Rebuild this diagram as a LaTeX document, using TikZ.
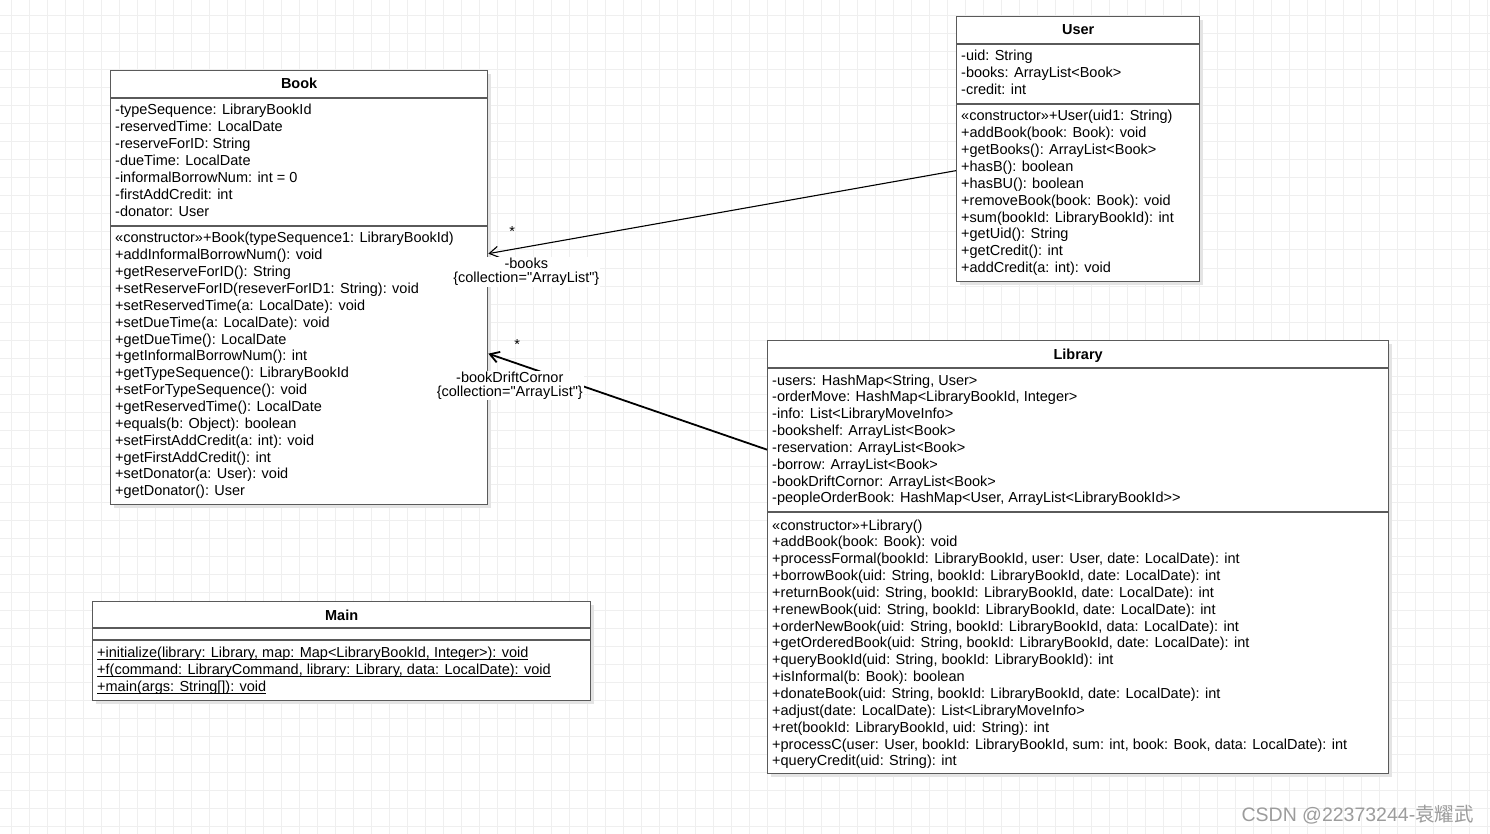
\documentclass[tikz,border=0pt]{standalone}
\usepackage{fontspec}
\setmainfont{Liberation Sans}
\newfontfamily\cjkfont{Noto Sans CJK SC}
\usetikzlibrary{arrows.meta,calc}
\definecolor{UmlBorder}{HTML}{5A5A5A}
\definecolor{UmlGrid}{HTML}{EFEFEF}
\definecolor{UmlShadow}{HTML}{E4E4E4}
\definecolor{UmlMark}{HTML}{9C9C9C}
\newcommand{\umlmembers}[1]{\begin{tabular}[t]{@{}l@{}}#1\end{tabular}}
\newcommand{\umlstatic}[1]{\setbox0\hbox{#1}\rlap{\rule[-2.2pt]{\wd0}{0.9pt}}\box0}

\begin{document}
\begin{tikzpicture}[x=1pt,y=-1pt,>={Straight Barb[length=9pt,width=11pt]},
  font=\fontsize{14.5}{16.85}\selectfont,
  classbox/.style={draw=UmlBorder,line width=1.3pt,fill=white,inner sep=0pt,anchor=north west,
    preaction={fill=UmlShadow,transform canvas={shift={(3pt,-3pt)}}}},
  classname/.style={font=\fontsize{14.5}{16.85}\selectfont\bfseries,inner sep=0pt,anchor=base},
  members/.style={anchor=base west,inner sep=0pt},
  divider/.style={UmlBorder,line width=1.3pt},
  assoc/.style={->,line width=1.1pt},
  mult/.style={inner sep=0pt},
  role/.style={fill=white,inner sep=1pt,align=center,font=\fontsize{14.5}{14}\selectfont}]
  \fill[white] (0,0) rectangle (1490,834);
  \useasboundingbox (0,0) rectangle (1490,834);
  \foreach \gx in {11,29,...,1490} \draw[UmlGrid,line width=1pt] (\gx,0) -- (\gx,834);
  \foreach \gy in {16,34,...,834} \draw[UmlGrid,line width=1pt] (0,\gy) -- (1490,\gy);

  % Book
  \node[classbox,minimum width=377pt,minimum height=434pt] (book) at (110,70) {};
  \node[classname] (bookName) at ($(book.north)+(0,19)$) {Book};
  \draw[divider] ($(book.north west)+(0,28)$) -- ($(book.north east)+(0,28)$);
  \draw[divider] ($(book.north west)+(0,156)$) -- ($(book.north east)+(0,156)$);
  \node[members] (bookAttr) at ($(book.north west)+(5,45)$) {\umlmembers{
    -typeSequence: LibraryBookId\\
    -reservedTime: LocalDate\\
    -reserveForID: String\\
    -dueTime: LocalDate\\
    -informalBorrowNum: int = 0\\
    -firstAddCredit: int\\
    -donator: User}};
  \node[members] (bookOps) at ($(book.north west)+(5,173)$) {\umlmembers{
    «constructor»+Book(typeSequence1: LibraryBookId)\\
    +addInformalBorrowNum(): void\\
    +getReserveForID(): String\\
    +setReserveForID(reseverForID1: String): void\\
    +setReservedTime(a: LocalDate): void\\
    +setDueTime(a: LocalDate): void\\
    +getDueTime(): LocalDate\\
    +getInformalBorrowNum(): int\\
    +getTypeSequence(): LibraryBookId\\
    +setForTypeSequence(): void\\
    +getReservedTime(): LocalDate\\
    +equals(b: Object): boolean\\
    +setFirstAddCredit(a: int): void\\
    +getFirstAddCredit(): int\\
    +setDonator(a: User): void\\
    +getDonator(): User}};

  % User
  \node[classbox,minimum width=243pt,minimum height=265pt] (user) at (956,16) {};
  \node[classname] (userName) at ($(user.north)+(0,19)$) {User};
  \draw[divider] ($(user.north west)+(0,28)$) -- ($(user.north east)+(0,28)$);
  \draw[divider] ($(user.north west)+(0,88)$) -- ($(user.north east)+(0,88)$);
  \node[members] (userAttr) at ($(user.north west)+(5,45)$) {\umlmembers{
    -uid: String\\
    -books: ArrayList<Book>\\
    -credit: int}};
  \node[members] (userOps) at ($(user.north west)+(5,105)$) {\umlmembers{
    «constructor»+User(uid1: String)\\
    +addBook(book: Book): void\\
    +getBooks(): ArrayList<Book>\\
    +hasB(): boolean\\
    +hasBU(): boolean\\
    +removeBook(book: Book): void\\
    +sum(bookId: LibraryBookId): int\\
    +getUid(): String\\
    +getCredit(): int\\
    +addCredit(a: int): void}};

  % Library
  \node[classbox,minimum width=621pt,minimum height=433pt] (library) at (767,340) {};
  \node[classname] (libraryName) at ($(library.north)+(0,19)$) {Library};
  \draw[divider] ($(library.north west)+(0,28)$) -- ($(library.north east)+(0,28)$);
  \draw[divider] ($(library.north west)+(0,172)$) -- ($(library.north east)+(0,172)$);
  \node[members] (libraryAttr) at ($(library.north west)+(5,45)$) {\umlmembers{
    -users: HashMap<String, User>\\
    -orderMove: HashMap<LibraryBookId, Integer>\\
    -info: List<LibraryMoveInfo>\\
    -bookshelf: ArrayList<Book>\\
    -reservation: ArrayList<Book>\\
    -borrow: ArrayList<Book>\\
    -bookDriftCornor: ArrayList<Book>\\
    -peopleOrderBook: HashMap<User, ArrayList<LibraryBookId>{}>}};
  \node[members] (libraryOps) at ($(library.north west)+(5,190)$) {\umlmembers{
    «constructor»+Library()\\
    +addBook(book: Book): void\\
    +processFormal(bookId: LibraryBookId, user: User, date: LocalDate): int\\
    +borrowBook(uid: String, bookId: LibraryBookId, date: LocalDate): int\\
    +returnBook(uid: String, bookId: LibraryBookId, date: LocalDate): int\\
    +renewBook(uid: String, bookId: LibraryBookId, date: LocalDate): int\\
    +orderNewBook(uid: String, bookId: LibraryBookId, data: LocalDate): int\\
    +getOrderedBook(uid: String, bookId: LibraryBookId, date: LocalDate): int\\
    +queryBookId(uid: String, bookId: LibraryBookId): int\\
    +isInformal(b: Book): boolean\\
    +donateBook(uid: String, bookId: LibraryBookId, date: LocalDate): int\\
    +adjust(date: LocalDate): List<LibraryMoveInfo>\\
    +ret(bookId: LibraryBookId, uid: String): int\\
    +processC(user: User, bookId: LibraryBookId, sum: int, book: Book, data: LocalDate): int\\
    +queryCredit(uid: String): int}};

  % Main
  \node[classbox,minimum width=498pt,minimum height=99pt] (main) at (92,601) {};
  \node[classname] (mainName) at ($(main.north)+(0,19.5)$) {Main};
  \draw[divider] ($(main.north west)+(0,27)$) -- ($(main.north east)+(0,27)$);
  \draw[divider] ($(main.north west)+(0,39)$) -- ($(main.north east)+(0,39)$);
  \node[members] (mainOps) at ($(main.north west)+(5,56.5)$) {\umlmembers{
    \umlstatic{+initialize(library: Library, map: Map<LibraryBookId, Integer>): void}\\
    \umlstatic{+f(command: LibraryCommand, library: Library, data: LocalDate): void}\\
    \umlstatic{+main(args: String[]): void}}};

  \draw[assoc] ([yshift=-21.5pt]user.west) -- ([yshift=34pt]book.east)
    node[mult,pos=1,xshift=24pt,yshift=22pt] {*}
    node[role,pos=1,xshift=38pt,yshift=-18.3pt]
      {-books\\\{collection=\textquotedbl ArrayList\textquotedbl\}};
  \draw[assoc,line width=1.8pt] ([yshift=107.5pt]library.west) -- ([yshift=-66pt]book.east)
    node[mult,pos=1,xshift=29pt,yshift=9pt] {*}
    node[role,pos=1,xshift=21.5pt,yshift=-32pt]
      {-bookDriftCornor\\\{collection=\textquotedbl ArrayList\textquotedbl\}};

  \node[anchor=base east,inner sep=0pt,text=UmlMark,font=\fontsize{19.5}{19.5}\selectfont] (mark)
    at (1474,821) {CSDN @22373244-{\cjkfont 袁耀武}};
\end{tikzpicture}
\end{document}
